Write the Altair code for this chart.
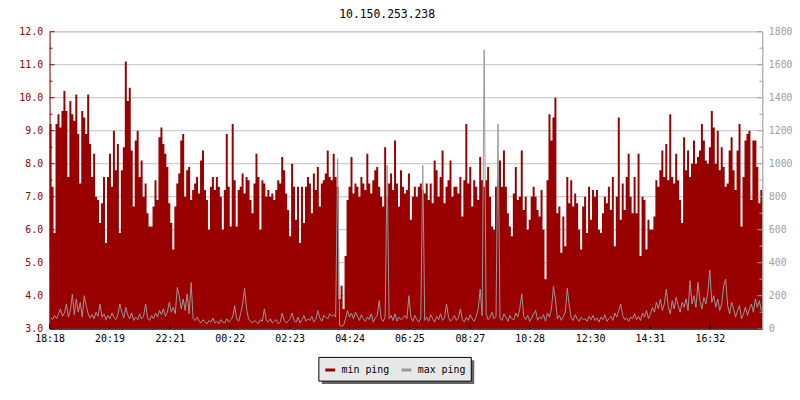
import altair as alt
import pandas as pd

TITLE = "10.150.253.238"
SERIES = ["min ping", "max ping"]
COLORS = ["#990000", "#999999"]

# one sample every 4 minutes, starting at 18:18
min_ping = [
    9.2, 7.3, 5.9, 9.2, 9.5, 9.1, 9.6, 10.2, 9.6, 7.6,
    9.9, 9.5, 9.3, 10.1, 8.9, 7.4, 9.6, 9.4, 8.9, 10.1,
    8.6, 7.6, 8.3, 7.0, 6.9, 6.2, 6.8, 7.6, 5.6, 7.6,
    8.3, 7.3, 9.0, 7.8, 8.6, 5.9, 7.8, 8.5, 11.1, 9.9,
    10.3, 8.4, 6.7, 8.7, 9.0, 7.6, 8.1, 7.0, 7.4, 6.5,
    6.1, 6.1, 6.7, 7.5, 6.9, 8.8, 9.1, 8.6, 8.3, 7.9,
    6.8, 6.2, 5.4, 6.7, 7.4, 7.7, 8.7, 8.9, 7.0, 7.8,
    7.9, 6.9, 7.2, 7.4, 7.6, 7.1, 8.1, 8.4, 7.2, 6.9,
    6.0, 7.3, 7.6, 7.2, 7.6, 7.3, 7.0, 6.0, 7.2, 8.9,
    7.3, 6.1, 9.2, 7.5, 6.1, 7.2, 7.3, 7.7, 7.1, 7.6,
    7.5, 6.9, 6.5, 7.4, 8.3, 7.6, 6.0, 7.5, 7.4, 7.0,
    7.2, 7.0, 7.1, 6.9, 7.2, 7.5, 7.4, 8.2, 7.8, 7.1,
    6.6, 5.8, 8.0, 7.3, 6.3, 7.3, 5.6, 7.3, 6.2, 7.3,
    7.6, 7.4, 6.5, 7.7, 7.2, 7.9, 6.7, 7.4, 7.5, 7.7,
    8.4, 7.6, 7.5, 8.3, 7.6, 7.3, 3.9, 4.3, 3.6, 5.2,
    6.9, 7.3, 8.2, 7.1, 7.4, 7.3, 7.0, 7.6, 7.4, 7.2,
    8.3, 7.4, 7.1, 7.5, 7.8, 7.9, 7.3, 7.0, 6.7, 8.5,
    7.0, 7.4, 7.7, 7.2, 8.7, 7.4, 6.7, 7.8, 7.3, 7.1,
    7.2, 7.7, 6.3, 7.0, 7.3, 7.0, 7.3, 7.4, 7.2, 7.1,
    7.4, 6.9, 7.4, 6.8, 8.1, 7.8, 7.0, 7.6, 8.4, 6.8,
    7.3, 7.5, 8.1, 7.0, 7.3, 7.3, 7.1, 7.6, 6.4, 7.5,
    9.2, 7.4, 7.9, 6.7, 7.5, 7.3, 6.9, 8.2, 7.5, 7.3,
    7.5, 7.9, 7.0, 6.1, 6.0, 7.3, 7.5, 8.1, 7.3, 8.4,
    7.3, 6.5, 6.1, 5.8, 7.1, 7.9, 6.9, 7.0, 8.4, 6.6,
    7.0, 6.0, 6.3, 7.0, 7.3, 7.0, 6.6, 6.4, 7.2, 6.0,
    4.5, 7.5, 9.5, 8.7, 9.4, 10.0, 6.5, 6.7, 5.3, 6.4,
    5.5, 7.6, 6.8, 7.5, 6.7, 7.1, 6.8, 6.0, 5.4, 6.7,
    7.0, 5.9, 7.3, 6.3, 7.2, 7.0, 7.2, 6.0, 5.9, 6.5,
    7.0, 6.8, 7.3, 6.6, 7.6, 5.5, 7.0, 9.4, 6.3, 7.4,
    6.6, 7.6, 8.3, 7.0, 6.5, 7.6, 6.5, 8.3, 5.2, 7.0,
    6.9, 5.4, 6.3, 6.0, 6.0, 6.4, 7.5, 7.3, 7.8, 8.4,
    7.6, 8.6, 7.5, 9.5, 7.6, 7.4, 8.3, 7.5, 6.9, 6.2,
    8.8, 7.8, 8.4, 7.6, 8.0, 8.7, 8.0, 8.2, 8.4, 9.2,
    8.7, 8.1, 8.0, 8.5, 9.6, 9.1, 8.0, 9.0, 7.8, 8.5,
    7.9, 7.3, 7.4, 8.4, 8.8, 7.8, 7.2, 8.4, 9.2, 6.1,
    7.6, 8.7, 8.9, 9.0, 6.9, 8.7, 8.7, 7.9, 6.8, 7.2,
]

max_ping = [
    70, 55, 80, 60, 90, 120, 75, 95, 150, 70,
    110, 210, 85, 180, 100, 160, 70, 200, 140, 90,
    65, 85, 60, 100, 75, 150, 70, 90, 55, 80,
    60, 95, 70, 55, 85, 150, 100, 65, 130, 80,
    60, 95, 50, 70, 55, 90, 60, 75, 150, 65,
    50, 80, 60, 95, 70, 110, 85, 120, 75, 100,
    160, 100, 130, 90, 250, 200, 120, 180, 110, 210,
    90, 280, 60, 50, 70, 45, 35, 55, 40, 30,
    50, 40, 65, 35, 45, 30, 55, 40, 35, 60,
    40, 55, 70, 140, 60, 45, 90, 150, 245, 120,
    60, 45, 35, 50, 40, 30, 55, 45, 120, 50,
    40, 60, 35, 45, 55, 30, 40, 95, 50, 35,
    45, 60, 95, 50, 40, 70, 35, 55, 80, 45,
    60, 50, 75, 40, 55, 110, 65, 45, 80, 70,
    60, 90, 75, 85, 70, 1030, 20, 15, 20, 60,
    110, 70, 95, 60, 100, 75, 50, 85, 60, 45,
    70, 55, 90, 40, 65, 80, 170, 60, 45, 70,
    990, 60, 80, 50, 90, 45, 70, 55, 65, 80,
    60, 200, 70, 45, 80, 55, 40, 65, 990, 50,
    70, 45, 85, 60, 40, 75, 55, 90, 50, 65,
    150, 70, 45, 60, 80, 50, 65, 120, 55, 40,
    70, 50, 85, 60, 45, 75, 120, 240, 80, 1690,
    90, 55, 70, 100, 60, 75, 1240, 65, 50, 90,
    70, 45, 80, 60, 55, 95, 70, 120, 210, 75,
    55, 80, 45, 65, 90, 110, 50, 70, 60, 85,
    45, 95, 70, 120, 255, 180, 60, 80, 50, 75,
    100, 245, 140, 65, 50, 85, 60, 45, 70, 55,
    60, 45, 75, 55, 80, 50, 65, 40, 70, 55,
    85, 45, 60, 75, 50, 95, 70, 110, 150, 80,
    55, 65, 45, 70, 60, 90, 55, 75, 50, 95,
    70, 110, 60, 90, 130, 100, 160, 120, 180, 110,
    150, 240, 130, 90, 170, 120, 190, 140, 100, 160,
    130, 180, 110, 290, 150, 200, 130, 280, 170, 120,
    190, 150, 220, 355, 160, 200, 130, 180, 110, 150,
    260, 300, 140, 90, 160, 120, 70, 110, 140, 60,
    90, 130, 80, 120, 150, 100, 180, 130, 170, 110,
]

x_tick_values = [0, 121, 243, 364, 485, 606, 727, 849, 970, 1092, 1213, 1334]
x_tick_labels = ["18:18", "20:19", "22:21", "00:22", "02:23", "04:24",
                 "06:25", "08:27", "10:28", "12:30", "14:31", "16:32"]
left_major = [3, 4, 5, 6, 7, 8, 9, 10, 11, 12]
left_minor = [3.5, 4.5, 5.5, 6.5, 7.5, 8.5, 9.5, 10.5, 11.5]
right_major = [0, 200, 400, 600, 800, 1000, 1200, 1400, 1600, 1800]
right_minor = [100, 300, 500, 700, 900, 1100, 1300, 1500, 1700]

STEP = 4
n = len(min_ping)
df_min = pd.DataFrame({
    "t": [i * STEP for i in range(n)] + [n * STEP],
    "minp": min_ping + [min_ping[-1]],
})
df_max = pd.DataFrame({
    "t": [i * STEP + STEP / 2 for i in range(n)],
    "maxp": max_ping,
})

FONT = "DejaVu Sans Mono"
W, H = 720, 300

xscale = alt.Scale(domain=[0, n * STEP], nice=False, zero=False)
lscale = alt.Scale(domain=[3, 12], nice=False, zero=False)
rscale = alt.Scale(domain=[0, 1800], nice=False, zero=False)

label_expr = ("[" + ",".join("'%s'" % s for s in x_tick_labels) + "][indexof(["
              + ",".join(str(v) for v in x_tick_values) + "], datum.value)]")

xaxis = alt.Axis(values=x_tick_values, labelExpr=label_expr, ticks=False, tickSize=0,
                 grid=False, domainColor="black", domainWidth=1, labelColor="black",
                 labelFont=FONT, labelFontSize=10, labelPadding=5, title=None,
                 zindex=1, labelFlush=False, labelOverlap=False, labelAngle=0)
laxis = alt.Axis(orient="left", values=left_major, format=".1f", ticks=False, tickSize=0,
                 grid=False, domainColor="#990000", labelColor="#990000", labelFont=FONT,
                 labelFontSize=10, labelPadding=7, title=None, zindex=1, labelFlush=False)
raxis = alt.Axis(orient="right", values=right_major, format="d", ticks=False, tickSize=0,
                 grid=False, domainColor="#a0a0a0", labelColor="#a0a0a0", labelFont=FONT,
                 labelFontSize=10, labelPadding=6, title=None, zindex=1, labelFlush=False)

grid = alt.Chart(pd.DataFrame({"v": left_major})).mark_rule(
    color="#c0c0c0", strokeWidth=1
).encode(y=alt.Y("v:Q", scale=lscale, axis=laxis))

area = alt.Chart(df_min).mark_area(interpolate="step-after", color="#990000", opacity=1).encode(
    x=alt.X("t:Q", scale=xscale, axis=xaxis),
    y=alt.Y("minp:Q", scale=lscale, axis=laxis),
    y2=alt.datum(3),
)

lmaj = alt.Chart(pd.DataFrame({"v": left_major})).mark_rule(color="#990000").encode(
    y=alt.Y("v:Q", scale=lscale, axis=laxis), x=alt.value(0), x2=alt.value(5))
lmin = alt.Chart(pd.DataFrame({"v": left_minor})).mark_rule(color="#990000").encode(
    y=alt.Y("v:Q", scale=lscale, axis=laxis), x=alt.value(0), x2=alt.value(3))
bticks = alt.Chart(pd.DataFrame({"v": x_tick_values})).mark_rule(color="black").encode(
    x=alt.X("v:Q", scale=xscale, axis=xaxis), y=alt.value(H - 5), y2=alt.value(H))

# legend box + shadow (decoration below the plot)
shadow = alt.Chart(pd.DataFrame({"a": [0]})).mark_rect(color="#666666").encode(
    x=alt.value(275), x2=alt.value(429), y=alt.value(332), y2=alt.value(356))
box = alt.Chart(pd.DataFrame({"a": [0]})).mark_rect(
    fill="#e8e8e8", stroke="black", strokeWidth=1).encode(
    x=alt.value(272), x2=alt.value(426), y=alt.value(329), y2=alt.value(353))

left = alt.layer(grid, area, lmaj, lmin, bticks, shadow, box)

line = alt.Chart(df_max).transform_calculate(series="'max ping'").mark_line(
    interpolate="linear", strokeWidth=1).encode(
    x=alt.X("t:Q", scale=xscale, axis=xaxis),
    y=alt.Y("maxp:Q", scale=rscale, axis=raxis),
    color=alt.Color("series:N", scale=alt.Scale(domain=SERIES, range=COLORS),
                    legend=alt.Legend(orient="none", legendX=272, legendY=330,
                                      direction="horizontal", title=None,
                                      padding=5, symbolType="stroke",
                                      symbolStrokeWidth=3, symbolSize=100,
                                      labelFont=FONT, labelFontSize=10,
                                      labelColor="black", columnPadding=5,
                                      labelOffset=5)),
)
rmaj = alt.Chart(pd.DataFrame({"v": right_major})).mark_rule(color="#a0a0a0").encode(
    y=alt.Y("v:Q", scale=rscale, axis=raxis), x=alt.value(W - 5), x2=alt.value(W))
rmin = alt.Chart(pd.DataFrame({"v": right_minor})).mark_rule(color="#a0a0a0").encode(
    y=alt.Y("v:Q", scale=rscale, axis=raxis), x=alt.value(W - 3), x2=alt.value(W))

right = alt.layer(line, rmaj, rmin)

chart = alt.layer(left, right).resolve_scale(y="independent").properties(
    width=W, height=H,
    title=alt.TitleParams(TITLE, font=FONT, fontSize=11.5, fontWeight="normal",
                          color="black", anchor="middle", dx=-19, offset=6),
    autosize=alt.AutoSizeParams(type="none"),
    padding={"left": 42, "top": 22, "right": 30, "bottom": 62},
).configure_view(stroke=None).configure(background="white")

chart.save("out.html", embed_options={"renderer": "svg", "actions": False})
